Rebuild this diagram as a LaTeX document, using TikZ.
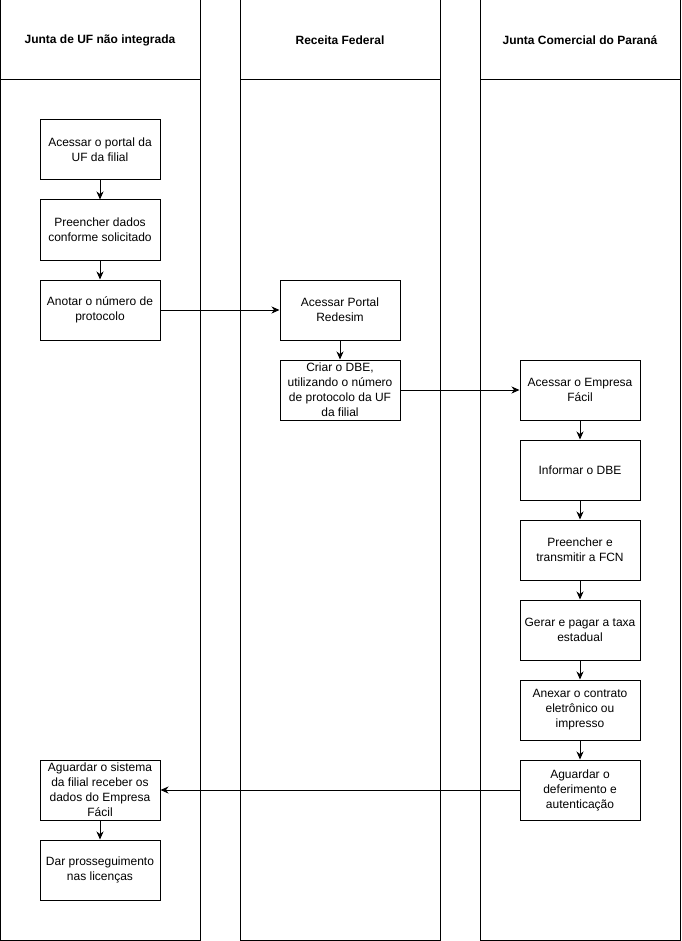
\documentclass[tikz,border=0pt]{standalone}
\usepackage{fontspec}
\setmainfont{Liberation Sans}
\usetikzlibrary{arrows.meta}
\begin{document}
\begin{tikzpicture}[x=1pt,y=-1pt,
  lane/.style={draw,line width=1pt,inner sep=0pt,minimum width=200pt},
  hdr/.style={lane,minimum height=80pt,font=\fontsize{12}{15}\selectfont\bfseries},
  body/.style={lane,minimum height=860pt},
  stepbox/.style={draw,line width=1pt,minimum width=120pt,minimum height=60pt,inner sep=0pt,align=center,font=\fontsize{12}{15}\selectfont},
  flow/.style={draw,line width=1pt,-{Stealth[length=8pt,width=7pt,inset=2.5pt]}}]
\useasboundingbox (0,0) rectangle (681,941);
\fill[white] (0,0) rectangle (681,941);
% lanes
\node[body] (b1) at (100,510) {};
\node[body] (b2) at (340,510) {};
\node[body] (b3) at (580,510) {};
\node[hdr] (h1) at (100,40) {Junta de UF não integrada};
\node[hdr] (h2) at (340,40) {Receita Federal};
\node[hdr] (h3) at (580,40) {Junta Comercial do Paraná};
% lane 1
\node[stepbox] (a1) at (100,150) {Acessar o portal da\\UF da filial};
\node[stepbox] (a2) at (100,230) {Preencher dados\\conforme solicitado};
\node[stepbox] (a3) at (100,310) {Anotar o número de\\protocolo};
\node[stepbox] (a4) at (100,790) {Aguardar o sistema\\da filial receber os\\dados do Empresa\\Fácil};
\node[stepbox] (a5) at (100,870) {Dar prosseguimento\\nas licenças};
% lane 2
\node[stepbox] (r1) at (340,310) {Acessar Portal\\Redesim};
\node[stepbox] (r2) at (340,390) {Criar o DBE,\\utilizando o número\\de protocolo da UF\\da filial};
% lane 3
\node[stepbox] (j1) at (580,390) {Acessar o Empresa\\Fácil};
\node[stepbox] (j2) at (580,470) {Informar o DBE};
\node[stepbox] (j3) at (580,550) {Preencher e\\transmitir a FCN};
\node[stepbox] (j4) at (580,630) {Gerar e pagar a taxa\\estadual};
\node[stepbox] (j5) at (580,710) {Anexar o contrato\\eletrônico ou\\impresso};
\node[stepbox] (j6) at (580,790) {Aguardar o\\deferimento e\\autenticação};
% connectors
\draw[flow] (a1) -- (a2);
\draw[flow] (a2) -- (a3);
\draw[flow] (a3) -- (r1);
\draw[flow] (r1) -- (r2);
\draw[flow] (r2) -- (j1);
\draw[flow] (j1) -- (j2);
\draw[flow] (j2) -- (j3);
\draw[flow] (j3) -- (j4);
\draw[flow] (j4) -- (j5);
\draw[flow] (j5) -- (j6);
\draw[flow] (j6) -- (a4);
\draw[flow] (a4) -- (a5);
\end{tikzpicture}
\end{document}
